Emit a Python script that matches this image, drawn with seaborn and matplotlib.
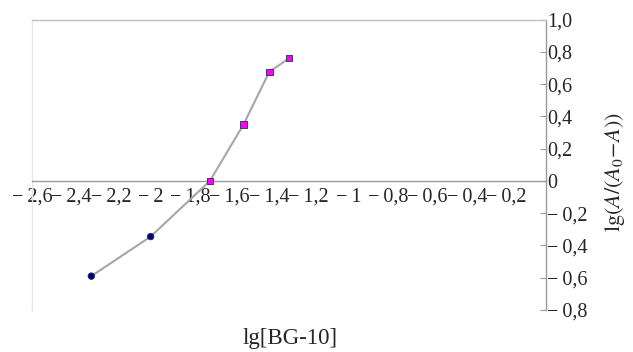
import matplotlib
matplotlib.use("Agg")
import matplotlib.pyplot as plt
import seaborn as sns
import pandas as pd

x_vals = [-2.3, -2.0, -1.7, -1.53, -1.4, -1.3]
y_vals = [-0.59, -0.345, 0.0, 0.35, 0.675, 0.76]
groups = ["a", "a", "b", "b", "b", "b"]
x_ticks = [-2.6, -2.4, -2.2, -2.0, -1.8, -1.6, -1.4, -1.2, -1.0, -0.8, -0.6, -0.4, -0.2]
x_labels = ["−\u20092,6", "−\u20092,4", "−\u20092,2", "−\u20092", "−\u20091,8", "−\u20091,6",
            "−\u20091,4", "−\u20091,2", "−\u20091", "−\u20090,8", "−\u20090,6", "−\u20090,4",
            "−\u20090,2"]
y_ticks = [-0.8, -0.6, -0.4, -0.2, 0.0, 0.2, 0.4, 0.6, 0.8, 1.0]
y_labels = ["−\u20090,8", "−\u20090,6", "−\u20090,4", "−\u20090,2", "0", "0,2", "0,4",
            "0,6", "0,8", "1,0"]

df = pd.DataFrame({"x": x_vals, "y": y_vals, "g": groups})

sns.set_style("white")
plt.rcParams["font.family"] = ["Liberation Serif", "DejaVu Serif"]
plt.rcParams["mathtext.fontset"] = "stix"

fig = plt.figure(figsize=(6.33, 3.52), dpi=100)
ax = fig.add_axes([0.0506, 0.1193, 0.8120, 0.8253])

sns.lineplot(data=df, x="x", y="y", ax=ax, color="#a6a6a6", linewidth=1.5,
             sort=False, zorder=2)
sns.scatterplot(data=df, x="x", y="y", hue="g", style="g", ax=ax,
                palette={"a": "#000080", "b": "#ff00ff"},
                markers={"a": "o", "b": "s"}, s=22, edgecolor="#2a2a5a",
                linewidth=0.6, legend=False, zorder=3)

ax.set_xlim(-2.6, 0)
ax.set_ylim(-0.8, 1.0)

ax.spines["right"].set_position(("data", 0))
ax.spines["bottom"].set_position(("data", 0))
ax.spines["right"].set_color("#9a9a9a")
ax.spines["bottom"].set_color("#9a9a9a")
ax.spines["top"].set_color("#c0c0c0")
ax.spines["left"].set_color("#e6e6e6")
for s in ax.spines.values():
    s.set_linewidth(1.0)

ax.yaxis.tick_right()
ax.set_xticks(x_ticks)
ax.set_xticklabels(x_labels, fontsize=14.5)
ax.set_yticks(y_ticks)
ax.set_yticklabels(y_labels, fontsize=14.5)
ax.tick_params(axis="x", direction="in", length=4, color="#9a9a9a", pad=5)
ax.tick_params(axis="y", direction="in", length=4, color="#9a9a9a", pad=1,
               left=False, right=True)

ax.set_xlabel("")
ax.set_ylabel("")
fig.text(0.459, 0.008, "lg[BG-10]", fontsize=16.5, ha="center", va="bottom")
fig.text(0.972, 0.51, r"$\mathrm{lg}(A/(A_0\!-\!A))$", fontsize=16, rotation=90,
         ha="center", va="center")
ax.grid(False)

fig.savefig("out.png", dpi=100)
